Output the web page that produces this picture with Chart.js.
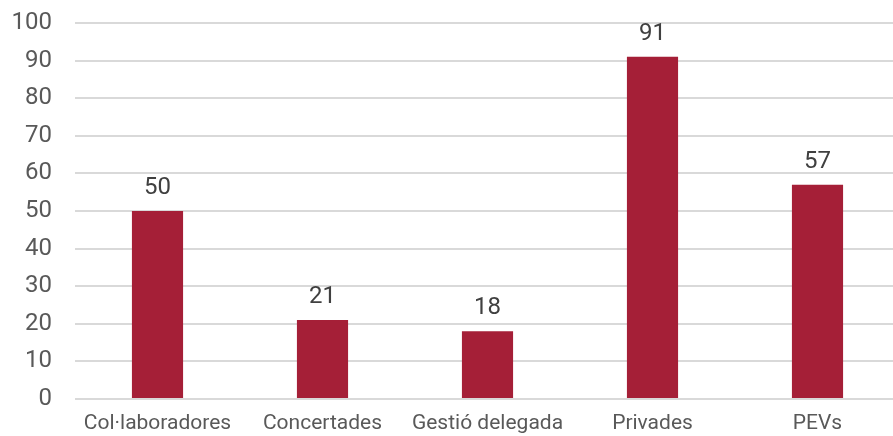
<!DOCTYPE html>
<html>
<head>
<meta charset="utf-8">
<script src="https://cdn.jsdelivr.net/npm/chart.js@4"></script>
<style>
  html, body { margin: 0; padding: 0; background: #fff; overflow: hidden; }
  #wrap { width: 900px; height: 436px; }
</style>
</head>
<body>
<div id="wrap"><canvas id="grafic"></canvas></div>
<script>
// dades llegides del gràfic
const categories = ['Col·laboradores', 'Concertades', 'Gestió delegada', 'Privades', 'PEVs'];
const valors = [50, 21, 18, 91, 57];
const ticksY = [0, 10, 20, 30, 40, 50, 60, 70, 80, 90, 100];

// etiquetes de valor damunt de cada barra
const etiquetes = {
    id: 'etiquetes',
    afterDatasetsDraw(chart) {
        const ctx = chart.ctx;
        ctx.save();
        ctx.font = '24px Roboto';
        ctx.fillStyle = '#404040';
        ctx.textAlign = 'center';
        ctx.textBaseline = 'middle';
        chart.getDatasetMeta(0).data.forEach((bar, i) => {
            ctx.fillText(valors[i], bar.x, bar.y - 23);
        });
        ctx.restore();
    }
};

const ctx = document.getElementById('grafic').getContext('2d');
new Chart(ctx, {
    type: 'bar',
    data: {
        labels: categories,
        datasets: [{
            data: valors,
            backgroundColor: '#A51F37',
            categoryPercentage: 1,
            barPercentage: 0.31
        }]
    },
    options: {
        responsive: true,
        maintainAspectRatio: false,
        animation: false,
        layout: { padding: { left: 0, top: 23, right: 0, bottom: 0 } },
        plugins: {
            legend: { display: false },
            tooltip: { enabled: false }
        },
        scales: {
            y: {
                min: 0,
                max: 100,
                afterBuildTicks(axis) { axis.ticks = ticksY.map(v => ({ value: v })); },
                afterFit(axis) {
                    axis.width = 75;
                    axis.paddingTop = 0;
                    axis.paddingBottom = 0;
                },
                border: { display: false },
                grid: { color: '#D9D9D9', lineWidth: 2, drawTicks: false },
                ticks: { color: '#595959', font: { family: 'Roboto', size: 24 }, padding: 23 }
            },
            x: {
                afterFit(axis) { axis.height = 37; },
                border: { display: false },
                grid: { display: false, drawTicks: false },
                ticks: { color: '#595959', font: { family: 'Roboto', size: 21 }, padding: 12, maxRotation: 0, autoSkip: false }
            }
        }
    },
    plugins: [etiquetes]
});
</script>
</body>
</html>
